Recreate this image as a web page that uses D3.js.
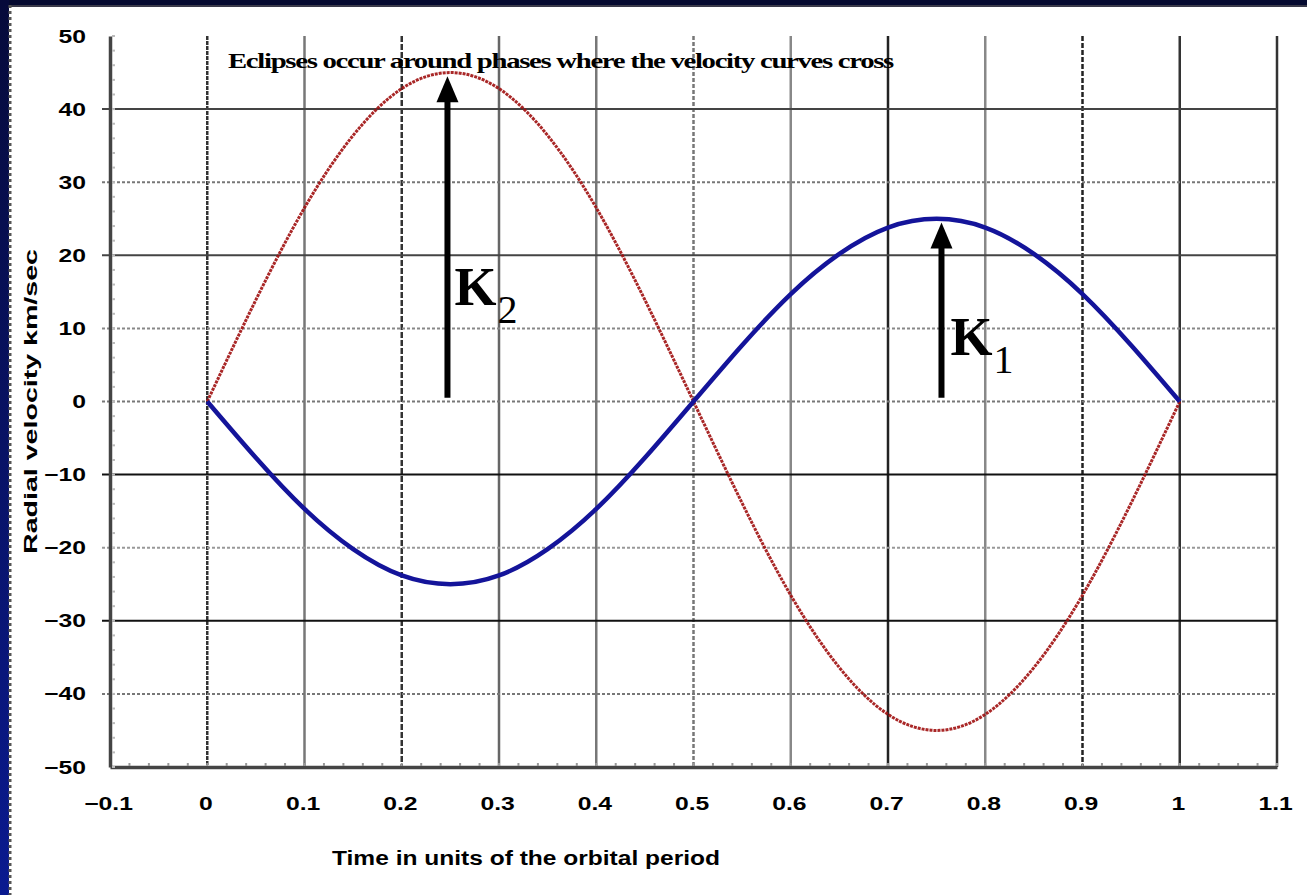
<!DOCTYPE html>
<html><head><meta charset="utf-8">
<script src="https://cdn.jsdelivr.net/npm/d3@7"></script>
<style>
html,body{margin:0;padding:0;background:#fff;overflow:hidden}
svg{display:block}
.tk text{font-family:'Liberation Sans',Arial,sans-serif !important;font-size:19px !important;font-weight:bold !important;fill:#000}
</style></head>
<body>
<script>
// ---- data ----
const phase   = [0,0.05,0.1,0.15,0.2,0.25,0.3,0.35,0.4,0.45,0.5,0.55,0.6,0.65,0.7,0.75,0.8,0.85,0.9,0.95,1];
const star2   = [0,13.9,26.5,36.4,42.8,45,42.8,36.4,26.5,13.9,0,-13.9,-26.5,-36.4,-42.8,-45,-42.8,-36.4,-26.5,-13.9,0];   // red
const star1   = [0,-7.7,-14.7,-20.2,-23.8,-25,-23.8,-20.2,-14.7,-7.7,0,7.7,14.7,20.2,23.8,25,23.8,20.2,14.7,7.7,0];     // blue
const xTicks  = [-0.1,0,0.1,0.2,0.3,0.4,0.5,0.6,0.7,0.8,0.9,1,1.1];
const yTicks  = [50,40,30,20,10,0,-10,-20,-30,-40,-50];
const arrowK2 = {t:0.247, from:0.5, to:44.5};
const arrowK1 = {t:0.755, from:0.5, to:24.5};
const title   = "Eclipses occur  around phases where the velocity curves cross";
const xTitle  = "Time in units of the orbital period";
const yTitle  = "Radial velocity  km/sec";

const W=1307,H=895;
const svg=d3.select("body").append("svg").attr("width",W).attr("height",H);

// frame
svg.append("rect").attr("width",W).attr("height",H).attr("fill","#fff");
svg.append("rect").attr("x",0).attr("y",0).attr("width",W).attr("height",5).attr("fill","#050a30");
svg.append("rect").attr("x",0).attr("y",5).attr("width",W).attr("height",2).attr("fill","#3a3a4a");
const lg=svg.append("defs").append("linearGradient").attr("id","lg").attr("x1",0).attr("x2",0).attr("y1",0).attr("y2",1);
lg.append("stop").attr("offset","0%").attr("stop-color","#060a3a");
lg.append("stop").attr("offset","100%").attr("stop-color","#0a1a90");
svg.append("rect").attr("x",0).attr("y",0).attr("width",9).attr("height",H).attr("fill","url(#lg)");
svg.append("line").attr("x1",10).attr("x2",10).attr("y1",5).attr("y2",H)
  .attr("stroke","#555").attr("stroke-width",3).attr("stroke-dasharray","3,3");

const x=d3.scaleLinear().domain([-0.1,1.1]).range([110,1277]);
const y=d3.scaleLinear().domain([-50,50]).range([767,36]);

// grid styles (index-aligned with tick arrays)
const vStyle=[null,["#333","4,1"],["#777",null],["#333","6,2"],["#666",null],["#777",null],["#777","4,2"],["#888",null],["#222",null],["#888",null],["#222","5,2"],["#333",null],["#333",null]];
const hStyle=[null,["#444",null],["#777","3,2"],["#444",null],["#888","3,2"],["#777","3,2"],["#111",null],["#999","3,2"],["#111",null],["#777","3,2"],null];

const g=svg.append("g");
xTicks.forEach((t,i)=>{
  const s=vStyle[i]; if(!s) return;
  g.append("line").attr("x1",x(t)).attr("x2",x(t)).attr("y1",y(50)).attr("y2",y(-50))
   .attr("stroke",s[0]).attr("stroke-width",2.5).attr("stroke-dasharray",s[1]);
});
yTicks.forEach((v,i)=>{
  const s=hStyle[i]; if(!s) return;
  g.append("line").attr("x1",x(-0.1)-8).attr("x2",x(1.1)).attr("y1",y(v)).attr("y2",y(v))
   .attr("stroke",s[0]).attr("stroke-width",2).attr("stroke-dasharray",s[1]);
});

// axes
const xAxis=d3.axisBottom(x).tickValues(xTicks).tickSize(0).tickPadding(30).tickFormat(d=>d3.format("")(+d.toFixed(1)));
const ax=svg.append("g").attr("class","tk").attr("transform",`translate(0,${y(-50)})`).call(xAxis)
  .attr("font-size",null).attr("font-family",null);
ax.select(".domain").attr("stroke","#444").attr("stroke-width",3.5);
ax.selectAll("text").attr("dx","-1.5").attr("transform","scale(1.3,1)");
// minor ticks bottom
const minorX=d3.range(-0.1,1.1001,0.02);
svg.append("g").selectAll("line").data(minorX).join("line")
  .attr("x1",d=>x(d)).attr("x2",d=>x(d)).attr("y1",y(-50)-4).attr("y2",y(-50)-1)
  .attr("stroke","#999").attr("stroke-width",2);

const yAxis=d3.axisLeft(y).tickValues(yTicks).tickSize(0).tickPadding(18.5);
const ay=svg.append("g").attr("class","tk").attr("transform",`translate(${x(-0.1)},0)`).call(yAxis)
  .attr("font-size",null).attr("font-family",null);
ay.select(".domain").attr("stroke","#444").attr("stroke-width",3.5);
ay.selectAll("text").attr("transform","scale(1.3,1)");
const minorY=d3.range(-50,50.001,2);
svg.append("g").selectAll("line").data(minorY).join("line")
  .attr("x1",x(-0.1)+2).attr("x2",x(-0.1)+5).attr("y1",d=>y(d)).attr("y2",d=>y(d))
  .attr("stroke","#bbb").attr("stroke-width",2);

// curves
const line=d3.line().x((d,i)=>x(phase[i])).y(d=>y(d)).curve(d3.curveNatural);
svg.append("path").attr("d",line(star2)).attr("fill","none")
  .attr("stroke","#a01010").attr("stroke-width",3).attr("stroke-dasharray","3,1").attr("opacity",0.9);
svg.append("path").attr("d",line(star1)).attr("fill","none")
  .attr("stroke","#14149a").attr("stroke-width",4.5);

// arrows
function arrow(a){
  const xx=x(a.t), y0=y(a.from), y1=y(a.to);
  svg.append("line").attr("x1",xx).attr("x2",xx).attr("y1",y0).attr("y2",y1+20)
    .attr("stroke","#000").attr("stroke-width",6);
  svg.append("path").attr("d",`M${xx},${y1} L${xx-11},${y1+26} L${xx+11},${y1+26} Z`).attr("fill","#000");
}
arrow(arrowK2); arrow(arrowK1);

function klabel(a,sub,kx,ky){
  const t=svg.append("text").attr("x",x(a.t)+kx).attr("y",y(ky))
    .style("font","bold 54px 'Liberation Serif','Times New Roman',serif").attr("fill","#000");
  t.append("tspan").text("K");
  t.append("tspan").attr("dy",18).attr("dx",1).style("font","normal 40px 'Liberation Serif','Times New Roman',serif").text(sub);
}
klabel(arrowK2,"2",7,13.2);
klabel(arrowK1,"1",9,6.3);

// texts
svg.append("text").attr("x",228).attr("y",68).attr("textLength",665).attr("lengthAdjust","spacingAndGlyphs")
  .style("font","bold 22px 'Liberation Serif','Times New Roman',serif").style("letter-spacing","-1px").text(title);
svg.append("text").attr("x",332).attr("y",865).attr("textLength",388).attr("lengthAdjust","spacingAndGlyphs")
  .style("font","bold 20px 'Liberation Sans',Arial,sans-serif").text(xTitle);
svg.append("text").attr("transform",`translate(37,${y(0)}) rotate(-90)`).attr("text-anchor","middle")
  .attr("textLength",305).attr("lengthAdjust","spacingAndGlyphs")
  .style("font","bold 18px 'Liberation Sans',Arial,sans-serif").text(yTitle);
</script>
</body></html>
